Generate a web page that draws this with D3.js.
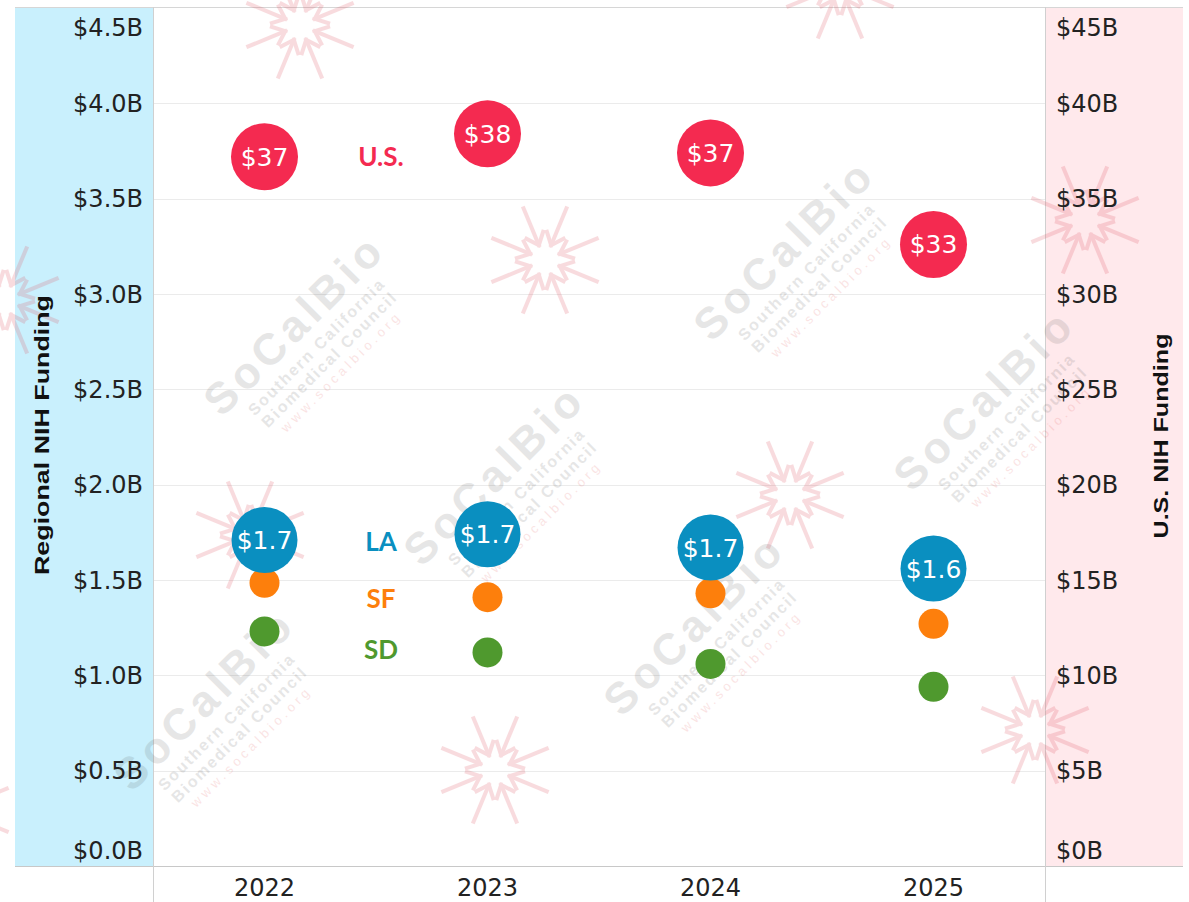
<!DOCTYPE html>
<html><head><meta charset="utf-8">
<script src="https://cdn.jsdelivr.net/npm/d3@7"></script>
<style>body{margin:0;background:#fff}</style>
</head><body><svg id="c" width="1189" height="902"></svg>
<script>
// ---- data ----
const years = ["2022", "2023", "2024", "2025"];
const usValues = [37.2, 38.4, 37.4, 32.6];   // U.S. NIH funding, $B (right axis)
const laValues = [1.71, 1.74, 1.67, 1.56];   // LA, $B (left axis)
const sfValues = [1.485, 1.41, 1.43, 1.27];  // SF
const sdValues = [1.23, 1.12, 1.06, 0.94];   // SD
const leftTicks = [0, 0.5, 1.0, 1.5, 2.0, 2.5, 3.0, 3.5, 4.0, 4.5];
const rightTicks = [0, 5, 10, 15, 20, 25, 30, 35, 40, 45];
const seriesNames = ["U.S.", "LA", "SF", "SD"];
const seriesLabelValues = [37.2, 1.70, 1.40, 1.135];
const leftTitle = "Regional NIH Funding";
const rightTitle = "U.S. NIH Funding";

(function () {
// ---- layout ----
const svg = d3.select("#c");
const W = 1189, H = 902;
const yTop = 8, yBot = 866;
const panelL = 15, plotL = 153, plotR = 1045, panelR = 1183;

const colors = { us: "#f42a50", la: "#0a8fc0", sf: "#fd7f0c", sd: "#4f992e" };

const yL = d3.scaleLinear().domain([0, 4.5]).range([yBot, yTop]);
const yR = d3.scaleLinear().domain([0, 45]).range([yBot, yTop]);
const x = d3.scaleBand().domain(years).range([plotL, plotR]);
const cx = d => x(d) + x.bandwidth() / 2;

// panels
svg.append("rect").attr("x", panelL).attr("y", yTop).attr("width", plotL - panelL).attr("height", yBot - yTop).attr("fill", "#c9f0fd");
svg.append("rect").attr("x", plotR).attr("y", yTop).attr("width", panelR - plotR).attr("height", yBot - yTop).attr("fill", "#ffe9ec");

// gridlines
svg.append("g").selectAll("line").data(leftTicks.filter(t => t > 0 && t < 4.5)).join("line")
  .attr("x1", plotL).attr("x2", plotR)
  .attr("y1", d => Math.round(yL(d)) + 0.5).attr("y2", d => Math.round(yL(d)) + 0.5)
  .attr("stroke", "#ebebeb").attr("stroke-width", 1);

// borders
svg.append("line").attr("x1", panelL).attr("x2", panelR).attr("y1", yTop - 0.5).attr("y2", yTop - 0.5).attr("stroke", "#d6d6d6");
svg.append("line").attr("x1", panelL).attr("x2", panelR).attr("y1", yBot + 0.5).attr("y2", yBot + 0.5).attr("stroke", "#c8c8c8");
[plotL, plotR].forEach(px => {
  svg.append("line").attr("x1", px + 0.5).attr("x2", px + 0.5).attr("y1", yTop - 1).attr("y2", H).attr("stroke", "#d0d0d0");
});

// ---- faint watermark (decoration, drawn under the marks' text but faint) ----
const wm = svg.append("g").attr("pointer-events", "none");
const arO = [545, 260], aa = [540, -40], ab = [245, 235];
for (let i = -3; i <= 3; i++) for (let j = -3; j <= 4; j++) {
  const px = arO[0] + i * aa[0] + j * ab[0], py = arO[1] + i * aa[1] + j * ab[1];
  if (px < -80 || px > W + 80 || py < -80 || py > H + 80) continue;
  const g = wm.append("g").attr("transform", `translate(${px},${py})`).attr("opacity", 0.2)
    .attr("stroke", "#e0505e").attr("stroke-width", 4).attr("fill", "none").attr("stroke-linecap", "square");
  d3.range(8).forEach(k => {
    const a = k * Math.PI / 4 + Math.PI / 8;
    const c = Math.cos(a), s = Math.sin(a);
    const r1 = 16, r2 = 56;
    g.append("line").attr("x1", c * r1).attr("y1", s * r1).attr("x2", c * r2).attr("y2", s * r2);
    const hx = c * r1, hy = s * r1, L = 14, sp = 0.7;
    g.append("path").attr("d",
      `M${hx + L * Math.cos(a + sp)},${hy + L * Math.sin(a + sp)} L${hx},${hy} L${hx + L * Math.cos(a - sp)},${hy + L * Math.sin(a - sp)}`);
  });
}
const logoO = [105, 185], la = [490, -75], lb = [200, 150];
for (let i = -3; i <= 3; i++) for (let j = -2; j <= 6; j++) {
  const px = logoO[0] + i * la[0] + j * lb[0], py = logoO[1] + i * la[1] + j * lb[1];
  const g = wm.append("g").attr("transform", `translate(${px},${py}) rotate(-45)`).attr("opacity", 0.13);
  g.append("text").attr("text-anchor", "middle").attr("font-family", "Liberation Sans").attr("font-weight", "bold")
    .attr("font-size", 44).attr("letter-spacing", 5).attr("fill", "#444").text("SoCalBio");
  g.append("text").attr("y", 22).attr("text-anchor", "middle").attr("font-family", "Liberation Sans").attr("font-weight", "bold")
    .attr("font-size", 16).attr("letter-spacing", 2).attr("fill", "#444").text("Southern California");
  g.append("text").attr("y", 40).attr("text-anchor", "middle").attr("font-family", "Liberation Sans").attr("font-weight", "bold")
    .attr("font-size", 16).attr("letter-spacing", 2).attr("fill", "#444").text("Biomedical Council");
  g.append("text").attr("y", 56).attr("text-anchor", "middle").attr("font-family", "Liberation Sans")
    .attr("font-size", 13).attr("letter-spacing", 4).attr("fill", "#d33").text("www.socalbio.org");
  const b = g.node().getBoundingClientRect();
  if (b.left < 0 || b.top < 0 || b.right > W || b.bottom > H) g.remove();
}

// left axis
const gL = svg.append("g").attr("transform", `translate(${plotL},0)`)
  .call(d3.axisLeft(yL).tickValues(leftTicks).tickSize(0).tickPadding(10)
    .tickFormat(d => "$" + d3.format(".1f")(d) + "B"));
gL.select(".domain").remove();
gL.selectAll("text").attr("font-family", "DejaVu Sans").attr("font-size", 24).attr("fill", "#222")
  .attr("dy", d => d === 4.5 ? "1.15em" : d === 0 ? "-0.32em" : "0.34em");

// right axis
const gR = svg.append("g").attr("transform", `translate(${plotR},0)`)
  .call(d3.axisRight(yR).tickValues(rightTicks).tickSize(0).tickPadding(11)
    .tickFormat(d => "$" + d + "B"));
gR.select(".domain").remove();
gR.selectAll("text").attr("font-family", "DejaVu Sans").attr("font-size", 24).attr("fill", "#222")
  .attr("dy", d => d === 45 ? "1.15em" : d === 0 ? "-0.32em" : "0.34em");

// x axis labels
const gX = svg.append("g").attr("transform", `translate(0,${yBot})`)
  .call(d3.axisBottom(x).tickSize(0).tickPadding(13));
gX.select(".domain").remove();
gX.selectAll("text").attr("font-family", "DejaVu Sans").attr("font-size", 24).attr("fill", "#222");

// axis titles
svg.append("text").attr("transform", `translate(49,435) rotate(-90)`).attr("text-anchor", "middle")
  .attr("font-family", "Liberation Sans").attr("font-weight", "bold").attr("font-size", 20)
  .attr("textLength", 280).attr("lengthAdjust", "spacingAndGlyphs").attr("fill", "#111").text(leftTitle);
svg.append("text").attr("transform", `translate(1168,436) rotate(-90)`).attr("text-anchor", "middle")
  .attr("font-family", "Liberation Sans").attr("font-weight", "bold").attr("font-size", 20)
  .attr("textLength", 205).attr("lengthAdjust", "spacingAndGlyphs").attr("fill", "#111").text(rightTitle);

// marks
const pts = (vals) => years.map((y, i) => ({ year: y, v: vals[i] }));
svg.append("g").selectAll("circle").data(pts(sdValues)).join("circle")
  .attr("cx", d => cx(d.year)).attr("cy", d => yL(d.v)).attr("r", 15).attr("fill", colors.sd);
svg.append("g").selectAll("circle").data(pts(sfValues)).join("circle")
  .attr("cx", d => cx(d.year)).attr("cy", d => yL(d.v)).attr("r", 15).attr("fill", colors.sf);
const gLA = svg.append("g");
gLA.selectAll("circle").data(pts(laValues)).join("circle")
  .attr("cx", d => cx(d.year)).attr("cy", d => yL(d.v)).attr("r", 33).attr("fill", colors.la);
gLA.selectAll("text").data(pts(laValues)).join("text")
  .attr("x", d => cx(d.year)).attr("y", d => yL(d.v)).attr("dy", "0.36em").attr("text-anchor", "middle")
  .attr("font-family", "DejaVu Sans").attr("font-size", 25).attr("fill", "#fff")
  .text(d => "$" + d3.format(".1f")(d.v));
const gUS = svg.append("g");
gUS.selectAll("circle").data(pts(usValues)).join("circle")
  .attr("cx", d => cx(d.year)).attr("cy", d => yR(d.v)).attr("r", 33.5).attr("fill", colors.us);
gUS.selectAll("text").data(pts(usValues)).join("text")
  .attr("x", d => cx(d.year)).attr("y", d => yR(d.v)).attr("dy", "0.36em").attr("text-anchor", "middle")
  .attr("font-family", "DejaVu Sans").attr("font-size", 25).attr("fill", "#fff")
  .text(d => "$" + d3.format(".0f")(d.v));

// series labels
const labelX = (cx(years[0]) + cx(years[1])) / 2 + 5;
const seriesColors = [colors.us, colors.la, colors.sf, colors.sd];
const seriesScales = [yR, yL, yL, yL];
svg.append("g").selectAll("text").data(seriesNames).join("text")
  .attr("x", labelX).attr("y", (d, i) => seriesScales[i](seriesLabelValues[i])).attr("dy", "0.36em")
  .attr("text-anchor", "middle").attr("font-family", "Lato").attr("font-weight", "bold").attr("font-size", 26)
  .attr("fill", (d, i) => seriesColors[i]).text(d => d);
})();
</script></body></html>
